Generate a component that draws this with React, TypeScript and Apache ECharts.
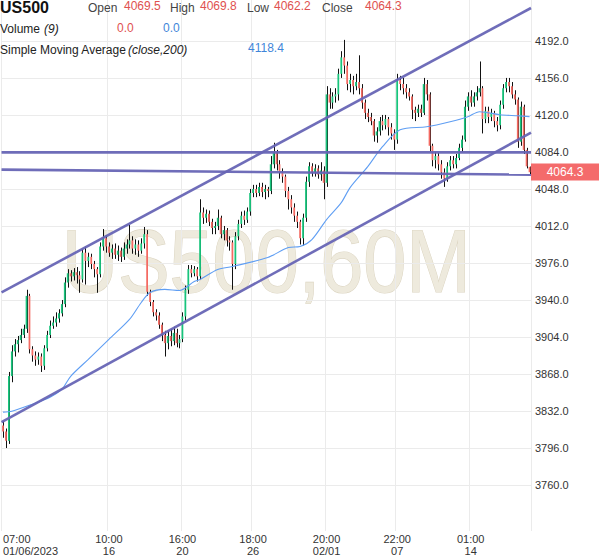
import React, { useEffect, useRef } from 'react';
import * as echarts from 'echarts';

const FONT = 'Liberation Sans, Arial, sans-serif';

const opens = [
  3818, 3812, 3803, 3866, 3890, 3897, 3901, 3906, 3912, 3944, 3892, 3886, 3882, 3885, 3876, 3893, 3906, 3915, 3918, 3922,
  3927, 3936, 3957, 3966, 3963, 3967, 3964, 3960, 3986, 3978, 3982, 3975, 3970, 3965, 3992, 4000, 3992, 3986, 3990, 3984,
  3988, 3982, 3990, 3994, 3998, 3990, 3994, 3988, 3995, 4004, 3948, 3938, 3928, 3925, 3916, 3906, 3898, 3905, 3900, 3908,
  3898, 3902, 3924, 3950, 3970, 3966, 3970, 3963, 4025, 4020, 4024, 4016, 4010, 4012, 4020, 4004, 4008, 3998, 3996, 3975,
  4002, 4014, 4022, 4018, 4026, 4044, 4048, 4044, 4050, 4045, 4048, 4046, 4072, 4084, 4072, 4064, 4060, 4046, 4038, 4030,
  4022, 4016, 4000, 4020, 4055, 4070, 4064, 4068, 4062, 4066, 4054, 4140, 4132, 4138, 4140, 4160, 4176, 4168, 4150, 4154,
  4148, 4152, 4146, 4132, 4122, 4118, 4114, 4100, 4104, 4114, 4110, 4116, 4108, 4102, 4096, 4154, 4150, 4146, 4142, 4138,
  4125, 4122, 4126, 4122, 4150, 4140, 4090, 4076, 4080, 4072, 4064, 4058, 4070, 4076, 4072, 4078, 4088, 4096, 4128, 4138,
  4132, 4138, 4142, 4146, 4116, 4124, 4118, 4122, 4114, 4110, 4130, 4146, 4152, 4148, 4140, 4135, 4094, 4128, 4086, 4069.5,
];

const closes = [
  3812, 3803, 3866, 3890, 3897, 3901, 3906, 3912, 3944, 3892, 3886, 3882, 3885, 3876, 3893, 3906, 3915, 3918, 3922, 3927,
  3936, 3957, 3966, 3963, 3967, 3964, 3960, 3986, 3978, 3982, 3975, 3970, 3965, 3992, 4000, 3992, 3986, 3990, 3984, 3988,
  3982, 3990, 3994, 3998, 3990, 3994, 3988, 3995, 4004, 3948, 3938, 3928, 3925, 3916, 3906, 3898, 3905, 3900, 3908, 3898,
  3902, 3924, 3950, 3970, 3966, 3970, 3963, 4025, 4020, 4024, 4016, 4010, 4012, 4020, 4004, 4008, 3998, 3996, 3975, 4002,
  4014, 4022, 4018, 4026, 4044, 4048, 4044, 4050, 4045, 4048, 4046, 4072, 4084, 4072, 4064, 4060, 4046, 4038, 4030, 4022,
  4016, 4000, 4020, 4055, 4070, 4064, 4068, 4062, 4066, 4054, 4140, 4132, 4138, 4140, 4160, 4176, 4168, 4150, 4154, 4148,
  4152, 4146, 4132, 4122, 4118, 4114, 4100, 4104, 4114, 4110, 4116, 4108, 4102, 4096, 4154, 4150, 4146, 4142, 4138, 4125,
  4122, 4126, 4122, 4150, 4140, 4090, 4076, 4080, 4072, 4064, 4058, 4070, 4076, 4072, 4078, 4088, 4096, 4128, 4138, 4132,
  4138, 4142, 4146, 4116, 4124, 4118, 4122, 4114, 4110, 4130, 4146, 4152, 4148, 4140, 4135, 4094, 4128, 4086, 4070, 4064.3,
];

const highs = [
  3822, 3815, 3870, 3896, 3902, 3905, 3912, 3916, 3950, 3946, 3895, 3890, 3889, 3888, 3896, 3910, 3920, 3924, 3928, 3931,
  3940, 3962, 3970, 3969, 3971, 3972, 3968, 3990, 3992, 3986, 3985, 3978, 3972, 3996, 4009, 4003, 3996, 3994, 3995, 3993,
  3991, 3996, 3999, 4013, 4002, 3999, 3998, 4000, 4011, 4008, 3950, 3940, 3931, 3928, 3918, 3910, 3910, 3912, 3914, 3912,
  3906, 3928, 3954, 3974, 3974, 3973, 3972, 4038, 4030, 4028, 4027, 4019, 4016, 4028, 4022, 4012, 4010, 4002, 3998, 4006,
  4018, 4026, 4027, 4030, 4048, 4052, 4052, 4054, 4054, 4052, 4050, 4080, 4093, 4086, 4076, 4068, 4062, 4050, 4042, 4034,
  4026, 4018, 4024, 4060, 4074, 4073, 4072, 4071, 4074, 4070, 4148, 4146, 4142, 4146, 4165, 4182, 4193, 4172, 4160, 4158,
  4160, 4178, 4150, 4135, 4126, 4122, 4116, 4108, 4118, 4120, 4120, 4118, 4112, 4106, 4160, 4158, 4156, 4150, 4146, 4140,
  4128, 4130, 4130, 4156, 4154, 4142, 4092, 4084, 4083, 4076, 4068, 4074, 4080, 4080, 4082, 4092, 4100, 4134, 4142, 4144,
  4142, 4148, 4172, 4148, 4128, 4128, 4126, 4124, 4118, 4134, 4150, 4156, 4156, 4152, 4144, 4137, 4133, 4130, 4088, 4069.8,
];

const lows = [
  3806, 3796, 3800, 3860, 3885, 3889, 3898, 3903, 3908, 3888, 3880, 3876, 3877, 3870, 3872, 3890, 3903, 3912, 3914, 3918,
  3924, 3933, 3952, 3958, 3959, 3956, 3947, 3957, 3955, 3972, 3970, 3962, 3947, 3962, 3988, 3986, 3982, 3980, 3980, 3978,
  3977, 3979, 3985, 3990, 3985, 3984, 3982, 3985, 3990, 3944, 3934, 3924, 3920, 3912, 3900, 3885, 3892, 3895, 3896, 3894,
  3893, 3899, 3920, 3946, 3962, 3963, 3958, 3960, 4014, 4015, 4012, 4004, 4004, 4008, 4000, 3998, 3992, 3988, 3950, 3970,
  3998, 4010, 4013, 4015, 4022, 4040, 4040, 4041, 4040, 4038, 4040, 4043, 4068, 4066, 4058, 4054, 4040, 4028, 4024, 4016,
  4010, 3994, 3993, 4016, 4050, 4060, 4060, 4058, 4056, 4038, 4050, 4126, 4126, 4132, 4134, 4156, 4160, 4144, 4142, 4140,
  4144, 4140, 4126, 4116, 4113, 4110, 4094, 4093, 4100, 4105, 4106, 4100, 4096, 4086, 4092, 4144, 4140, 4136, 4134, 4116,
  4114, 4118, 4118, 4120, 4134, 4084, 4070, 4068, 4066, 4058, 4050, 4055, 4066, 4068, 4068, 4076, 4084, 4094, 4124, 4128,
  4128, 4134, 4138, 4102, 4112, 4112, 4114, 4108, 4104, 4106, 4126, 4142, 4142, 4136, 4130, 4088, 4090, 4082, 4068, 4062.2,
];

// Simple moving average (close,200): [bar index, value]
const smaPoints = [
  [0, 3830.9], [3, 3831.8], [10, 3838.6], [16, 3845.4], [20, 3853.2], [23, 3865.8], [29, 3882.3], [36, 3901.7],
  [43, 3921.1], [47, 3937.6], [50, 3947.3], [55, 3950.3], [60, 3949.3], [65, 3958.0], [67, 3960.0], [73, 3969.7],
  [78, 3972.6], [90, 3981.3], [97, 3991.0], [101, 3992.0], [105, 3998.8], [110, 4018.2], [115, 4034.7], [118, 4049.3],
  [124, 4069.7], [129, 4089.1], [135, 4105.6], [144, 4108.5], [152, 4113.4], [158, 4118.2], [162, 4123.1], [169, 4120.2],
  [175, 4119.2], [179, 4118.4],
];

const timeLabels = ['07:00\n01/06/2023', '10:00\n16', '16:00\n20', '18:00\n26', '20:00\n02/01', '22:00\n07', '01:00\n14'];
const labelIndices = [0, 36, 61, 85, 110, 134, 159];
const priceTicks = [3760, 3796, 3832, 3868, 3904, 3940, 3976, 4012, 4048, 4084, 4120, 4156, 4192];

// trend lines: value at left edge, value at right edge
const upperChannel = [3947.4, 4224.0];
const lowerChannel = [3821.2, 4102.7];
const levelLine1 = [4083.6, 4083.6];
const levelLine2 = [4066.8, 4061.9];

const UP = '#18c47c';
const DOWN = '#f46a62';
const TREND = '#6765b5';

export default function App() {
  const ref = useRef<HTMLDivElement>(null);
  useEffect(() => {
    if (!ref.current) return;
    const chart = echarts.init(ref.current, undefined, { renderer: 'svg' });
    const cats = opens.map((_, i) => String(i));
    const candleData = opens.map((o, i) => [i, o, closes[i], lows[i], highs[i]]);
    const last = opens.length - 1;
    const isLabel = (idx: number) => labelIndices.indexOf(idx) >= 0;

    const trend = (vals: number[]) => ({
      type: 'line',
      xAxisIndex: 1,
      yAxisIndex: 0,
      data: [[0, vals[0]], [1, vals[1]]],
      symbol: 'none',
      silent: true,
      z: 4,
      lineStyle: { color: TREND, width: 2.6, opacity: 0.95 },
    });

    const headerText = (id: string, x: number, y: number, text: string, font: string, fill: string) => ({
      id, type: 'text', x, y, z: 100, silent: true, style: { text, font, fill, verticalAlign: 'middle' },
    });

    const option: any = {
      animation: false,
      backgroundColor: '#ffffff',
      grid: { left: 0, right: 68, top: 0, bottom: 25, containLabel: false },
      xAxis: [
        {
          type: 'category',
          data: cats,
          boundaryGap: true,
          axisLine: { show: false },
          axisTick: { show: false },
          axisLabel: {
            interval: (idx: number) => isLabel(idx),
            formatter: (_v: string, idx: number) => {
              const k = labelIndices.indexOf(idx);
              return k >= 0 ? timeLabels[k] : '';
            },
            alignMinLabel: 'left',
            color: '#333',
            fontSize: 11,
            lineHeight: 12,
            fontFamily: FONT,
            margin: 2,
          },
          splitLine: { show: true, interval: (idx: number) => isLabel(idx), lineStyle: { color: '#ebebeb', width: 1 } },
        },
        { type: 'value', min: 0, max: 1, show: false },
      ],
      yAxis: {
        type: 'value',
        position: 'right',
        min: 3715.3,
        max: 4231.8,
        axisLine: { show: false },
        axisTick: { show: false, customValues: priceTicks },
        axisLabel: {
          customValues: priceTicks,
          formatter: (v: number) => v.toFixed(1),
          color: '#333',
          fontSize: 11,
          fontFamily: FONT,
          margin: 4,
        },
        splitLine: { show: true, lineStyle: { color: '#ebebeb', width: 1 } },
      },
      graphic: {
        elements: [
          {
            id: 'watermark',
            type: 'text',
            x: 62,
            y: 261,
            scaleX: 0.87,
            z: -10,
            silent: true,
            style: {
              text: 'US500,60M',
              font: '89px ' + FONT,
              fill: '#eeeadd',
              stroke: '#dcd5c2',
              lineWidth: 1.2,
              verticalAlign: 'middle',
            },
          },
          headerText('h0', 0, 7, 'US500', 'bold 16px ' + FONT, '#111'),
          headerText('h1', 88, 7.5, 'Open', '12px ' + FONT, '#444'),
          headerText('h2', 124, 6, opens[last].toFixed(1), '12px ' + FONT, '#e0514f'),
          headerText('h3', 170, 7.5, 'High', '12px ' + FONT, '#444'),
          headerText('h4', 200, 6, highs[last].toFixed(1), '12px ' + FONT, '#e0514f'),
          headerText('h5', 247, 7.5, 'Low', '12px ' + FONT, '#444'),
          headerText('h6', 274, 6, lows[last].toFixed(1), '12px ' + FONT, '#e0514f'),
          headerText('h7', 322, 7.5, 'Close', '12px ' + FONT, '#444'),
          headerText('h8', 365, 6, closes[last].toFixed(1), '12px ' + FONT, '#e0514f'),
          headerText('h9', 0, 29, 'Volume', '12px ' + FONT, '#222'),
          headerText('h10', 44, 29, '(9)', 'italic 12px ' + FONT, '#222'),
          headerText('h11', 117, 27.5, '0.0', '12px ' + FONT, '#e0514f'),
          headerText('h12', 163, 27.5, '0.0', '12px ' + FONT, '#3f86d9'),
          headerText('h13', 0, 50, 'Simple Moving Average', '12px ' + FONT, '#222'),
          headerText('h14', 128, 50, '(close,200)', 'italic 12px ' + FONT, '#222'),
          headerText('h15', 248, 48, smaPoints[smaPoints.length - 1][1].toFixed(1), '12px ' + FONT, '#3f86d9'),
        ],
      },
      series: [
        {
          type: 'custom',
          name: 'US500',
          xAxisIndex: 0,
          yAxisIndex: 0,
          data: candleData,
          encode: { x: 0, y: [1, 2, 3, 4] },
          z: 3,
          renderItem: (_params: any, api: any) => {
            const i = api.value(0);
            const o = api.value(1);
            const c = api.value(2);
            const l = api.value(3);
            const h = api.value(4);
            const pH = api.coord([i, h]);
            const pL = api.coord([i, l]);
            const pO = api.coord([i, o]);
            const pC = api.coord([i, c]);
            const band = api.size([1, 0])[0];
            const bw = Math.max(1, band * 0.6);
            const cx = Math.round(pH[0]) + 0.5;
            const top = Math.min(pO[1], pC[1]);
            const hgt = Math.max(1, Math.abs(pO[1] - pC[1]));
            return {
              type: 'group',
              children: [
                { type: 'line', shape: { x1: cx, y1: pH[1], x2: cx, y2: pL[1] }, style: { stroke: '#111', lineWidth: 1 } },
                { type: 'rect', shape: { x: pO[0] - bw / 2, y: top, width: bw, height: hgt }, style: { fill: c >= o ? UP : DOWN } },
              ],
            };
          },
        },
        {
          type: 'line',
          name: 'SMA',
          xAxisIndex: 0,
          yAxisIndex: 0,
          data: smaPoints,
          symbol: 'none',
          smooth: 0.3,
          silent: true,
          z: 3,
          lineStyle: { color: '#5f9ef3', width: 1.1 },
        },
        trend(upperChannel),
        trend(lowerChannel),
        trend(levelLine1),
        trend(levelLine2),
      ],
    };
    chart.setOption(option);

    // last-price tag placed through the y axis scale
    const py = chart.convertToPixel({ yAxisIndex: 0 }, closes[last]) as number;
    chart.setOption({
      graphic: {
        elements: [
          { id: 'tagRect', type: 'rect', z: 110, silent: true, shape: { x: 531, y: Math.round(py) - 8.5, width: 68, height: 17 }, style: { fill: '#f46b6b' } },
          {
            id: 'tagText', type: 'text', z: 111, silent: true, x: 565, y: Math.round(py),
            style: { text: closes[last].toFixed(1), font: '12px ' + FONT, fill: '#ffffff', align: 'center', verticalAlign: 'middle' },
          },
        ],
      },
    });
    return () => chart.dispose();
  }, []);
  return <div ref={ref} style={{ position: 'fixed', left: 0, top: 0, width: 599, height: 557 }} />;
}
